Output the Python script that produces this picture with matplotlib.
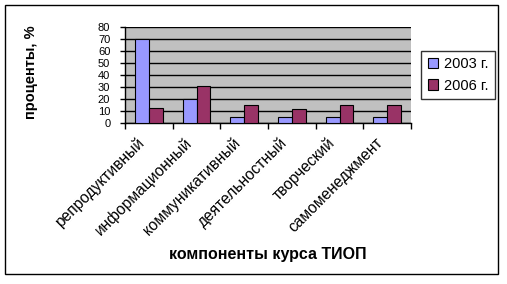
import matplotlib.pyplot as plt
import numpy as np
from matplotlib.patches import Rectangle
from matplotlib.transforms import ScaledTranslation

plt.rcParams['font.family'] = ['Liberation Sans', 'DejaVu Sans']

categories = ['репродуктивный', 'информационный', 'коммуникативный',
              'деятельностный', 'творческий', 'самоменеджмент']
vals_2003 = [70, 20, 5, 5, 5, 5]
vals_2006 = [13, 31, 15, 12, 15, 15]
series_names = ['2003 г.', '2006 г.']
yticks = [0, 10, 20, 30, 40, 50, 60, 70, 80]

fig = plt.figure(figsize=(5.07, 2.84), dpi=100)
fig.patches.append(Rectangle((5 / 507, 1 - 274 / 284), 493 / 507, 269 / 284,
                             transform=fig.transFigure, fill=False,
                             edgecolor='black', linewidth=1))

ax = fig.add_axes([125 / 507, 1 - 123.3 / 284, 286 / 507, 96.6 / 284])
ax.set_facecolor('#C0C0C0')

x = np.arange(len(categories))
w = 0.29
ax.bar(x - w / 2, vals_2003, w, color='#9999FF', edgecolor='black',
       linewidth=0.8, label=series_names[0], zorder=3)
ax.bar(x + w / 2, vals_2006, w, color='#993366', edgecolor='black',
       linewidth=0.8, label=series_names[1], zorder=3)

ax.set_xlim(-0.5, len(categories) - 0.5)
ax.set_ylim(0, 80)
ax.set_yticks(yticks)
ax.yaxis.grid(True, color='black', linewidth=1, zorder=1)
ax.set_axisbelow(True)
ax.tick_params(axis='y', length=3.6, width=1, pad=7, labelsize=8)

ax.set_xticks(x)
ax.set_xticklabels(categories, rotation=45, ha='right', va='center',
                   rotation_mode='anchor', fontsize=11.2)
ax.tick_params(axis='x', which='major', length=0, pad=12)
ax.set_xticks(np.arange(len(categories) + 1) - 0.5, minor=True)
ax.tick_params(axis='x', which='minor', length=4, width=1, direction='out')
shift = ScaledTranslation(-5 / 72, 0, fig.dpi_scale_trans)
for lbl in ax.get_xticklabels():
    lbl.set_transform(lbl.get_transform() + shift)

for s in ['top', 'right']:
    ax.spines[s].set_visible(False)
ax.spines['left'].set_linewidth(1)
ax.spines['bottom'].set_linewidth(1)

fig.text(31 / 507, 1 - 72 / 284, 'проценты, %', rotation=90, fontsize=10.5,
         fontweight='bold', ha='center', va='center')
fig.text(268 / 507, 1 - 254 / 284, 'компоненты курса ТИОП', fontsize=11.5,
         fontweight='bold', ha='center', va='center')

leg = ax.legend(loc='center left', bbox_to_anchor=(421 / 507, 1 - 75 / 284),
                bbox_transform=fig.transFigure, frameon=True, fancybox=False,
                edgecolor='black', fontsize=10.5, handlelength=0.7,
                handleheight=0.7, handletextpad=0.4, borderpad=0.45,
                labelspacing=0.5, borderaxespad=0)
leg.get_frame().set_linewidth(1)

fig.savefig('out.png', dpi=100)
